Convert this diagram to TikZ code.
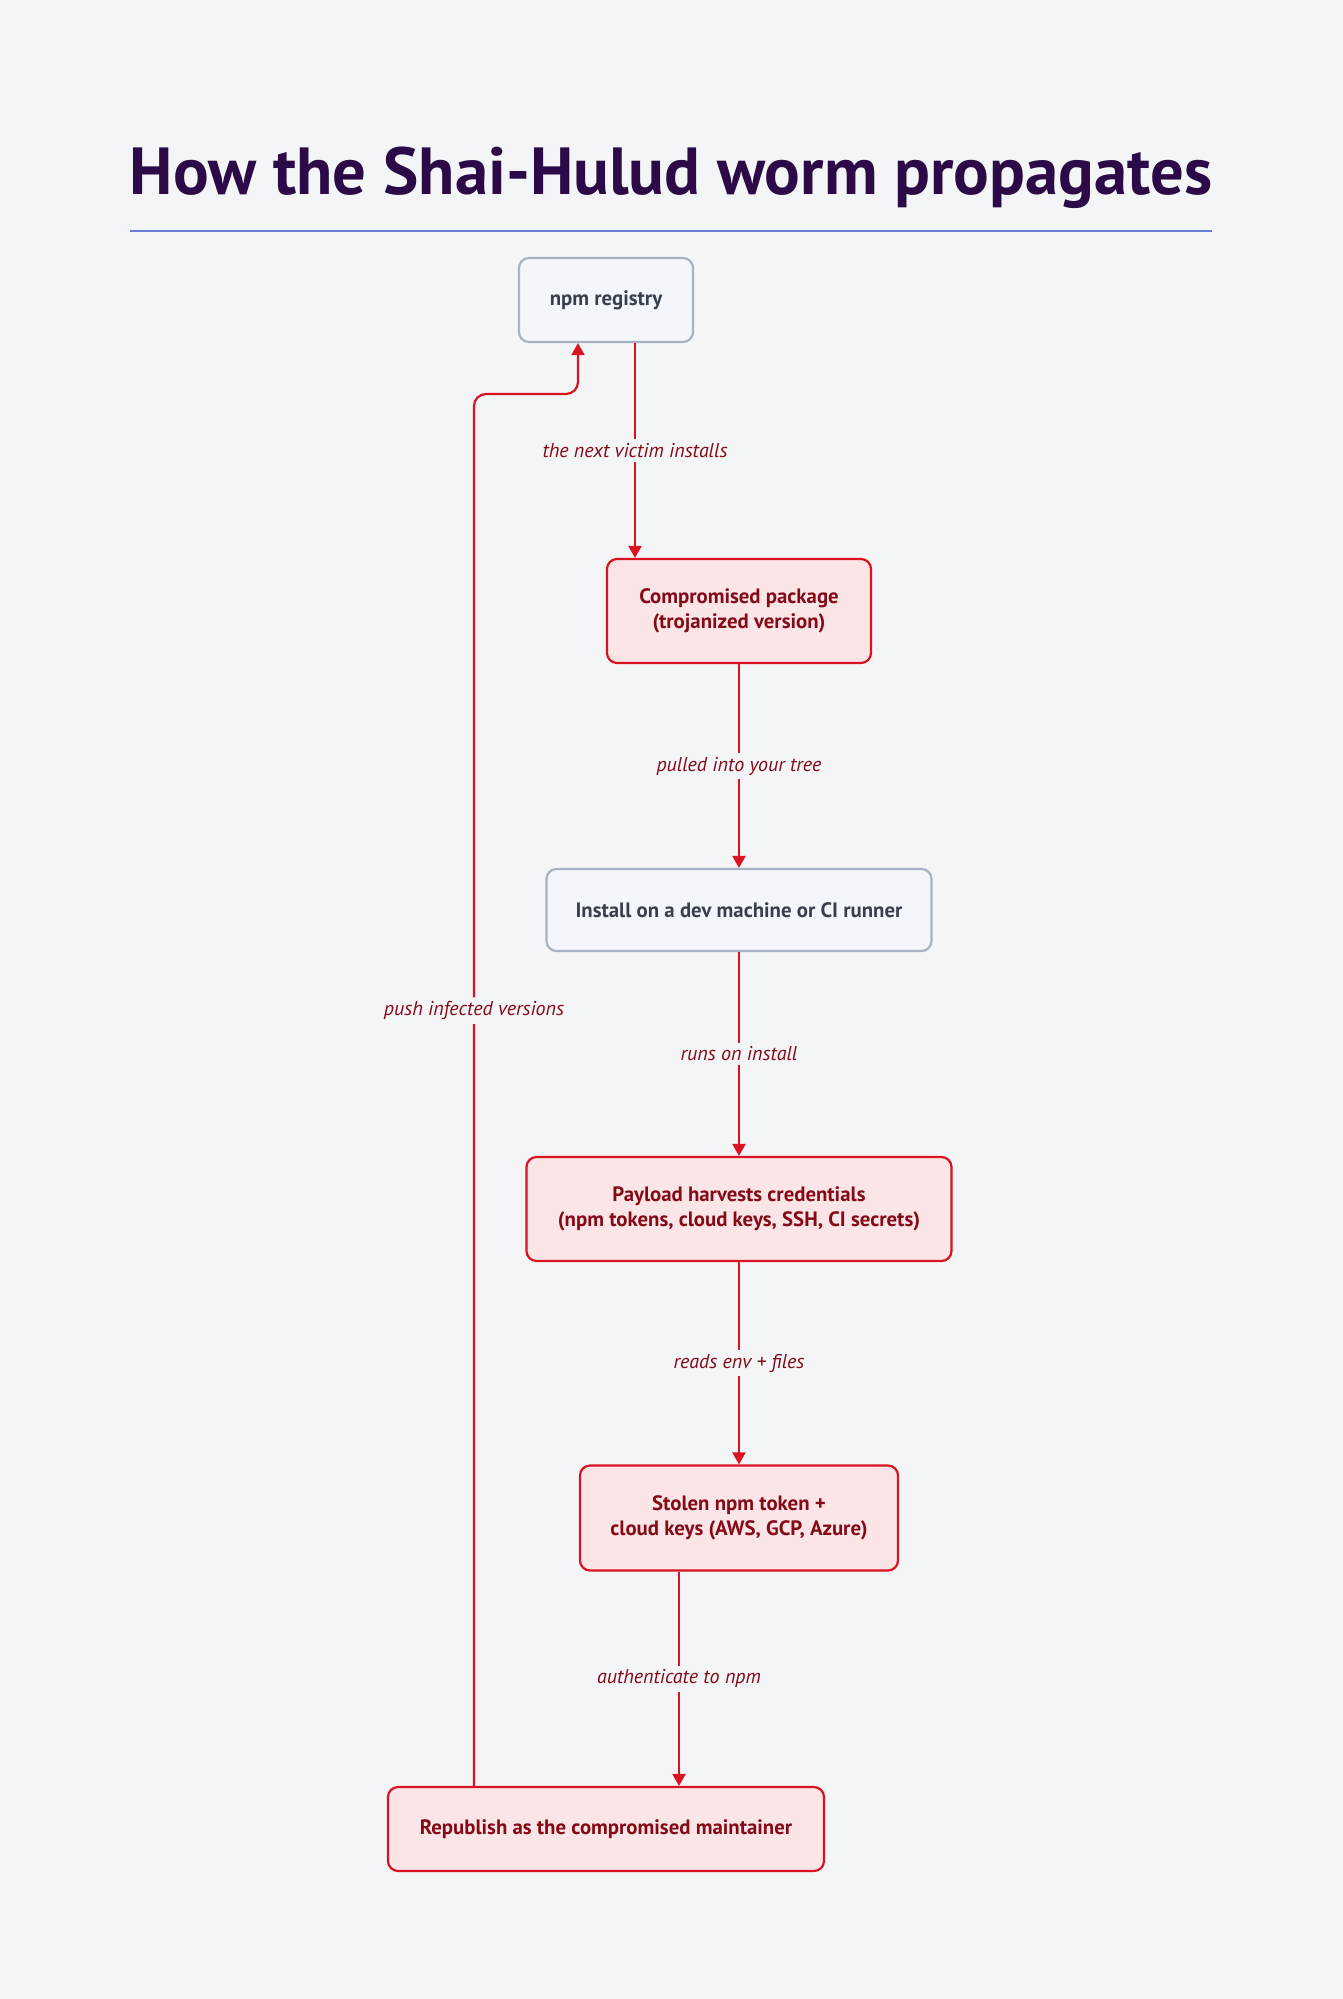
\documentclass[tikz,border=0pt]{standalone}
\usepackage{fontspec}
\setmainfont{PT Sans}
\usetikzlibrary{arrows.meta}

\definecolor{bgcol}{HTML}{F4F5F7}
\definecolor{titlecol}{HTML}{2B0A47}
\definecolor{rulecol}{HTML}{6B7FD7}
\definecolor{linered}{HTML}{D7141F}
\definecolor{fillred}{HTML}{FCE5E7}
\definecolor{txtred}{HTML}{850A17}
\definecolor{boxgray}{HTML}{A7B3C3}
\definecolor{fillgray}{HTML}{F3F6FA}
\definecolor{txtgray}{HTML}{37404C}

\tikzset{
  box/.style={draw, rounded corners=5pt, line width=1.1pt, align=center,
    font=\bfseries\fontsize{10.4}{12.2}\selectfont, inner sep=0pt},
  redbox/.style={box, draw=linered, fill=fillred, text=txtred},
  graybox/.style={box, draw=boxgray, fill=fillgray, text=txtgray},
  flow/.style={-{Triangle[length=6pt,width=6.5pt]}, draw=linered, line width=1.1pt},
  lbl/.style={fill=bgcol, text=txtred, inner sep=2pt,
    font=\itshape\fontsize{10}{12}\selectfont},
}

\begin{document}
\begin{tikzpicture}[x=0.5pt, y=-0.5pt]
    \fill[bgcol] (0,0) rectangle (1343,1999);
    \useasboundingbox (0,0) rectangle (1343,1999);

    % Title
    \node[anchor=base, text=titlecol, font=\bfseries\fontsize{33.3}{38}\selectfont] (title) at (671,194) {How the Shai-Hulud worm propagates};
    \draw[rulecol, line width=0.7pt] (130,231) -- (1212,231);

    % npm registry
    \node[graybox, minimum width=87pt, minimum height=42pt] (reg) at (606,300) {npm registry};
    % Compromised package
    \node[redbox, minimum width=132pt, minimum height=52pt] (pkg) at (739,611) {Compromised package\\(trojanized version)};
    % Install step
    \node[graybox, minimum width=192.5pt, minimum height=41pt] (inst) at (739,910) {Install on a dev machine or CI runner};
    % Payload
    \node[redbox, minimum width=212.5pt, minimum height=52pt] (pay) at (739,1209) {Payload harvests credentials\\(npm tokens, cloud keys, SSH, CI secrets)};
    % Stolen tokens
    \node[redbox, minimum width=159pt, minimum height=52.5pt] (tok) at (739,1518) {Stolen npm token +\\cloud keys (AWS, GCP, Azure)};
    % Republish
    \node[redbox, minimum width=218pt, minimum height=42pt] (repub) at (606,1829) {Republish as the compromised maintainer};

    % Helper points for the off-centre arrows
    \coordinate (regx) at (635,0);
    \coordinate (tokx) at (679,0);
    \coordinate (loopx) at (474,0);
    \coordinate (loopturn) at (578,394);

    % Arrows along the chain
    \draw[flow] (reg.south -| regx) -- node[lbl] {the next victim installs} (pkg.north -| regx);
    \draw[flow] (pkg.south) -- node[lbl] {pulled into your tree} (inst.north);
    \draw[flow] (inst.south) -- node[lbl] {runs on install} (pay.north);
    \draw[flow] (pay.south) -- node[lbl] {reads env + files} (tok.north);
    \draw[flow] (tok.south -| tokx) -- node[lbl] {authenticate to npm} (repub.north -| tokx);

    % Back to the registry
    \draw[flow, rounded corners=6pt] (repub.north -| loopx) -- node[lbl, pos=0.557] {push infected versions} (loopx |- loopturn) -- (loopturn) -- (reg.south -| loopturn);
\end{tikzpicture}
\end{document}
